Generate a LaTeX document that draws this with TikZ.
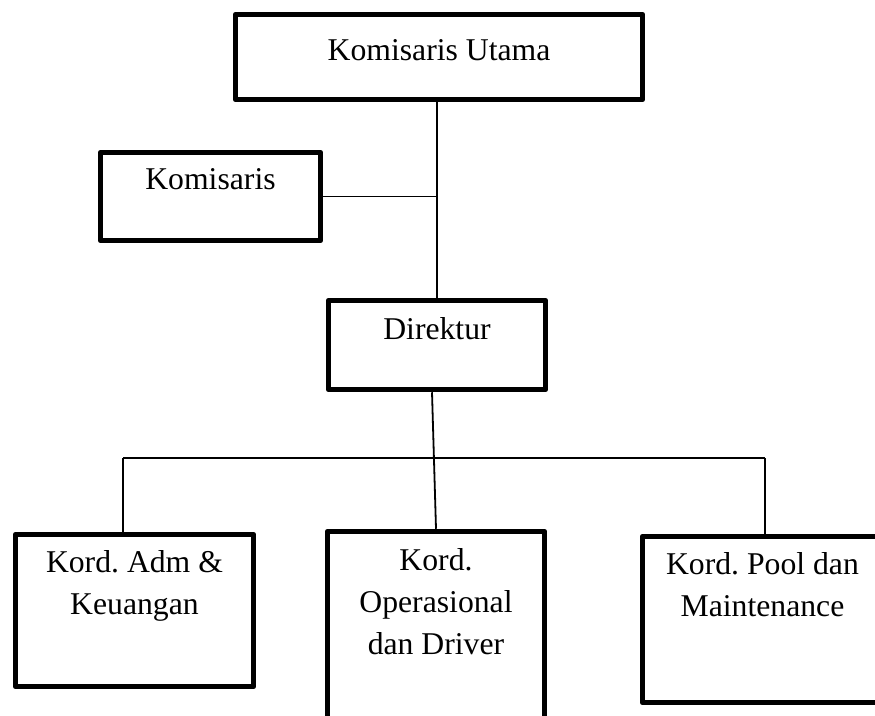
\documentclass[tikz,border=0pt]{standalone}
\usepackage{fontspec}
\setmainfont{Liberation Serif}
\usetikzlibrary{calc}
\frenchspacing
\tikzset{
  box/.style={draw, line width=5.5pt, line join=round, inner sep=0pt},
  lbl/.style={anchor=north, inner sep=0pt, align=center, font=\fontsize{31.7}{42}\selectfont},
  link/.style={line width=1.8pt}
}
\begin{document}
\begin{tikzpicture}[x=1pt, y=-1pt]
    \clip (0,0) rectangle (875,715);

    % Boxes
    \node[box, minimum width=407pt, minimum height=85pt] (utama) at (439,57) {};
    \node[box, minimum width=220pt, minimum height=88pt] (komisaris) at (210.5,196.5) {};
    \node[box, minimum width=217pt, minimum height=89pt] (direktur) at (437,345) {};
    \node[box, minimum width=238pt, minimum height=152pt] (adm) at (134.5,610.5) {};
    \node[box, minimum width=217pt, minimum height=200pt] (ops) at (436,631.5) {};
    \node[box, minimum width=240pt, minimum height=166pt] (pool) at (762.5,619.5) {};

    % Labels
    \node[lbl] at ([yshift=-28pt]utama.north) {Komisaris Utama};
    \node[lbl] at ([yshift=-19pt]komisaris.north) {Komisaris};
    \node[lbl] at ([yshift=-20pt]direktur.north) {Direktur};
    \node[lbl] at ([yshift=-19pt]adm.north) {Kord. Adm \&\\Keuangan};
    \node[lbl] at ([yshift=-20pt]ops.north) {Kord.\\Operasional\\dan Driver};
    \node[lbl] at ([yshift=-19pt]pool.north) {Kord. Pool dan\\Maintenance};

    % Links
    \draw[link] (utama.south -| direktur.north) -- (direktur.north);
    \draw[link] (komisaris.east) -- (komisaris.east -| direktur.north);
    \draw[link] ([xshift=-5pt]direktur.south) -- (ops.north);
    \coordinate (busL) at (123,458);
    \coordinate (busR) at (765,458);
    \draw[link] (busL) -- (busR);
    \draw[link] (busL) -- (busL |- adm.north);
    \draw[link] (busR) -- (busR |- pool.north);
\end{tikzpicture}
\end{document}
